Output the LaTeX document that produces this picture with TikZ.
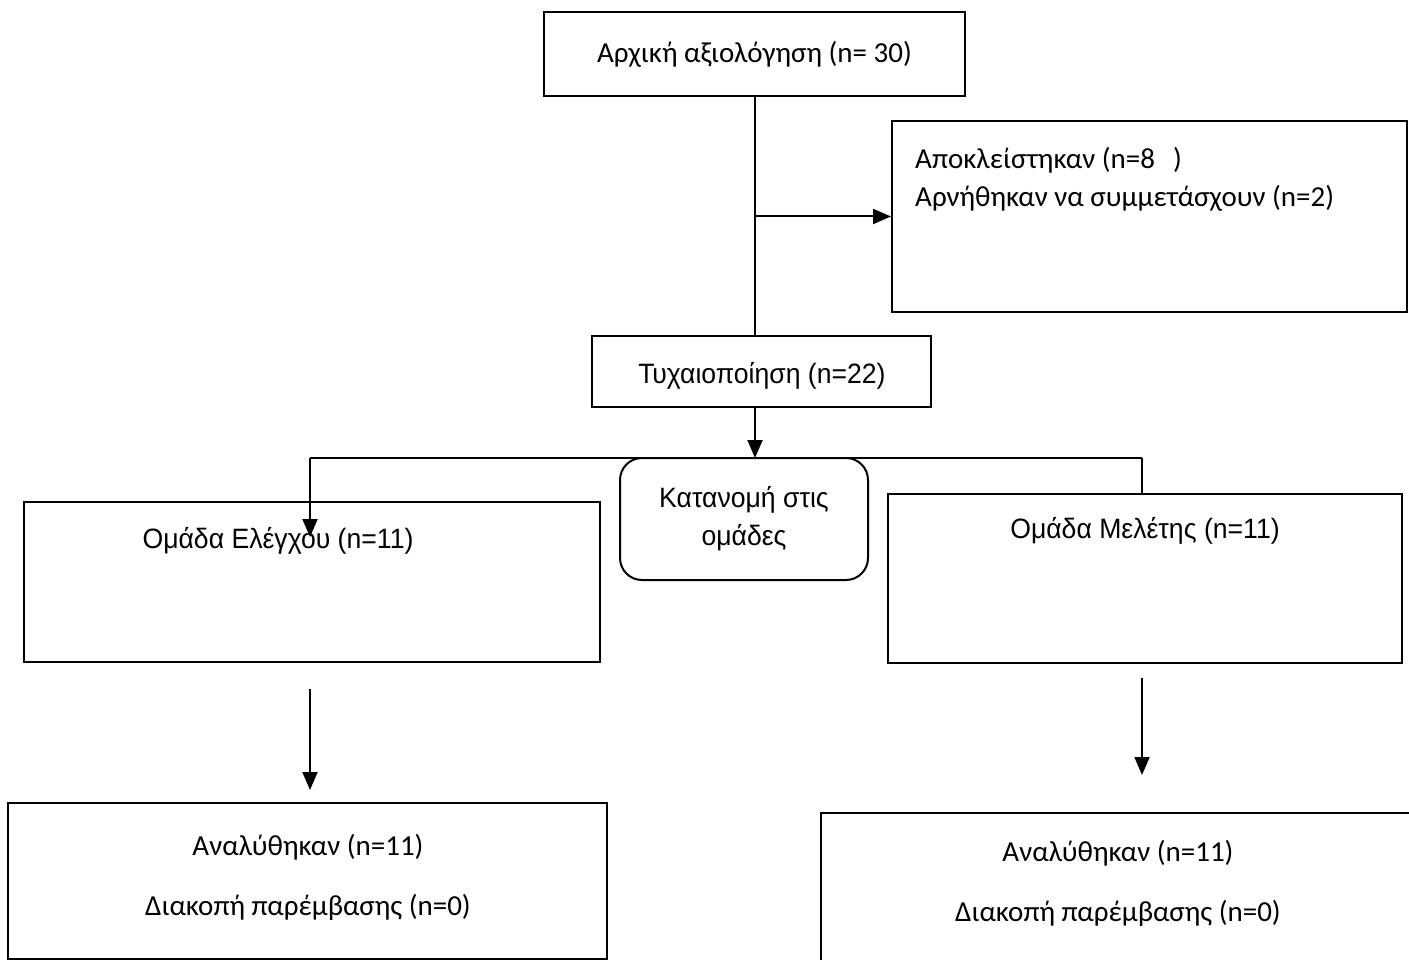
\documentclass[tikz,border=0pt]{standalone}
\usepackage{fontspec}
\setmainfont{Carlito}
\newfontfamily\narrowfont[FakeStretch=0.95]{Liberation Sans}
\usetikzlibrary{arrows.meta}

\tikzset{
  box/.style={draw, line width=2pt, inner sep=0pt},
  roundbox/.style={box, rounded corners=22pt, align=center},
  txt/.style={inner sep=0pt, font=\fontsize{29}{38}\selectfont},
  narrowtxt/.style={inner sep=0pt, font=\narrowfont\fontsize{28}{38}\selectfont},
  arr/.style={line width=2pt, -{Triangle[length=18pt,width=15pt]}},
  link/.style={line width=2pt}
}

\begin{document}
\begin{tikzpicture}[x=1pt,y=-1pt]
  \useasboundingbox (0,0) rectangle (1409,960);
  \clip (0,0) rectangle (1409,960);

  % Boxes
  \node[box, minimum width=421pt, minimum height=84pt, txt] (init) at (754.5,54) {Αρχική αξιολόγηση (n= 30)};
  \node[box, minimum width=515pt, minimum height=191pt] (excl) at (1149.5,216.5) {};
  \node[box, minimum width=339pt, minimum height=71pt] (rand) at (761.5,371.5) {};
  \node[roundbox, minimum width=248pt, minimum height=122pt, narrowtxt] (alloc) at (744,519) {Κατανομή στις\\ομάδες};
  \node[box, minimum width=576pt, minimum height=160pt] (ctrl) at (312,582) {};
  \node[box, minimum width=514pt, minimum height=169pt] (study) at (1145,578.5) {};
  \node[box, minimum width=599pt, minimum height=156pt] (anaL) at (307.5,881) {};
  \node[box, minimum width=640pt, minimum height=200pt, anchor=north west] (anaR) at (820,812) {};

  % Texts
  \node[txt, anchor=west, align=left] (excltext) at (915,179) {Αποκλείστηκαν (n=8\hspace{18pt})\\Αρνήθηκαν να συμμετάσχουν (n=2)};
  \node[narrowtxt] (randtext) at (762,376) {Τυχαιοποίηση (n=22)};
  \node[narrowtxt] (ctrltext) at (278,541) {Ομάδα Ελέγχου (n=11)};
  \node[narrowtxt] (studytext) at (1145,531) {Ομάδα Μελέτης (n=11)};
  \node[txt] (anaLa) at (308,847) {Αναλύθηκαν (n=11)};
  \node[txt] (anaLb) at (308,907) {Διακοπή παρέμβασης (n=0)};
  \node[txt] (anaRa) at (1118,853) {Αναλύθηκαν (n=11)};
  \node[txt] (anaRb) at (1118,913) {Διακοπή παρέμβασης (n=0)};

  % Connectors
  \coordinate (split) at (755,458);
  \coordinate (jl) at (310,458);
  \coordinate (jr) at (1142,458);
  \coordinate (ctrltip) at (310,537);
  \coordinate (lstart) at (310,689);
  \coordinate (lend) at (310,790);
  \coordinate (rstart) at (1142,678);
  \coordinate (rend) at (1142,775);

  \draw[link] (init.south) -- (init.south |- rand.north);
  \draw[arr] (init.south |- excl.west) -- (excl.west);
  \draw[arr] (split |- rand.south) -- (split);
  \draw[link] (jl) -- (jr);
  \draw[arr] (jl) -- (ctrltip);
  \draw[link] (jr) -- (jr |- study.north);
  \draw[arr] (lstart) -- (lend);
  \draw[arr] (rstart) -- (rend);
\end{tikzpicture}
\end{document}
